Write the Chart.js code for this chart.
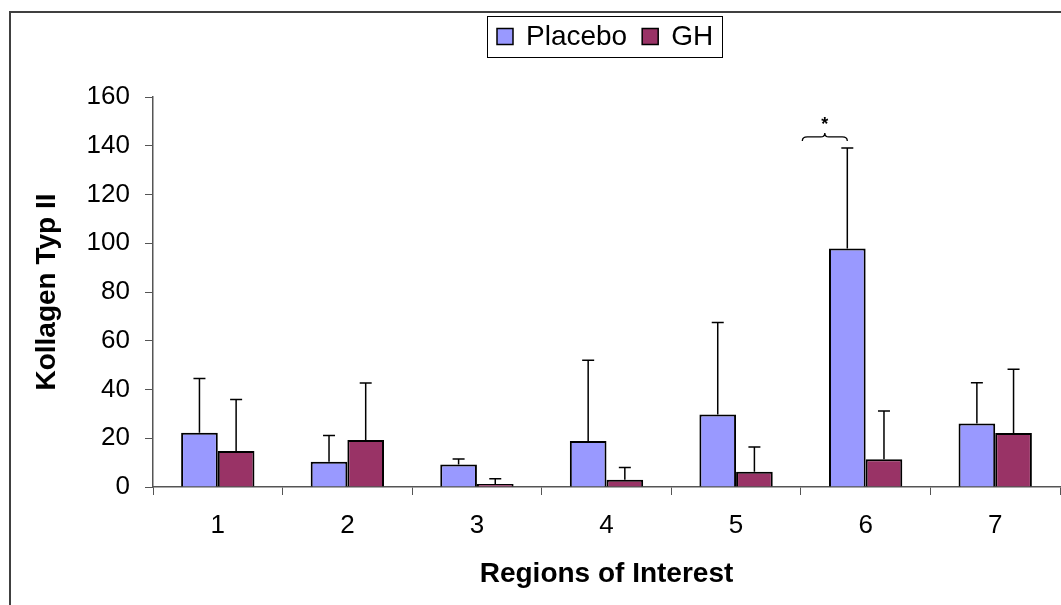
<!DOCTYPE html>
<html lang="de">
<head>
<meta charset="UTF-8">
<title>Kollagen Typ II</title>
<script src="https://cdn.jsdelivr.net/npm/chart.js@4/dist/chart.umd.min.js"></script>
<style>
  html, body { margin: 0; padding: 0; background: #fff; }
  canvas { display: block; }
</style>
</head>
<body>
<canvas id="myChart" width="1061" height="605"></canvas>
<script>
// data
var regions = ['1', '2', '3', '4', '5', '6', '7'];
var placebo = [22.3, 10.4, 9.2, 18.9, 29.7, 97.8, 26.1];
var placeboSD = [22.2, 10.7, 2.3, 33.1, 37.8, 41.3, 16.7];
var gh = [14.8, 19.3, 1.2, 3.0, 6.3, 11.4, 22.2];
var ghSD = [21.1, 23.4, 2.2, 5.0, 10.1, 19.8, 26.1];
var yTicks = [0, 20, 40, 60, 80, 100, 120, 140, 160];
// significance mark over region 6
var sigIndex = 5;
var sigValue = 142;

var FONT = 'Liberation Sans, Arial, sans-serif';

// outer frame
var framePlugin = {
    id: 'frame',
    beforeDraw: function (chart) {
        var ctx = chart.ctx;
        ctx.save();
        ctx.fillStyle = '#fff';
        ctx.fillRect(0, 0, chart.width, chart.height);
        ctx.strokeStyle = '#404040';
        ctx.lineWidth = 2;
        ctx.strokeRect(10, 12, chart.width + 20, chart.height + 20);
        ctx.restore();
    }
};

// upper error bars only
var errorBarPlugin = {
    id: 'errorBars',
    afterDatasetsDraw: function (chart) {
        var ctx = chart.ctx;
        var yScale = chart.scales.y;
        ctx.save();
        ctx.strokeStyle = '#000';
        ctx.lineWidth = 1.5;
        chart.data.datasets.forEach(function (ds, di) {
            var meta = chart.getDatasetMeta(di);
            meta.data.forEach(function (bar, i) {
                var top = yScale.getPixelForValue(ds.data[i] + ds.sd[i]);
                ctx.beginPath();
                ctx.moveTo(bar.x, bar.y);
                ctx.lineTo(bar.x, top);
                ctx.moveTo(bar.x - 6, top);
                ctx.lineTo(bar.x + 6, top);
                ctx.stroke();
            });
        });
        ctx.restore();
    }
};

// brace + asterisk over region 6
var sigPlugin = {
    id: 'sig',
    afterDatasetsDraw: function (chart) {
        var ctx = chart.ctx;
        var bar = chart.getDatasetMeta(0).data[sigIndex];
        var yb = chart.scales.y.getPixelForValue(sigValue);
        var x1 = bar.x - 45, x2 = bar.x, xm = (x1 + x2) / 2;
        var h = 8;
        ctx.save();
        ctx.strokeStyle = '#000';
        ctx.lineWidth = 1.3;
        ctx.beginPath();
        ctx.moveTo(x1, yb);
        ctx.quadraticCurveTo(x1, yb - h / 2, x1 + 5, yb - h / 2);
        ctx.lineTo(xm - 4, yb - h / 2);
        ctx.quadraticCurveTo(xm, yb - h / 2, xm, yb - h);
        ctx.quadraticCurveTo(xm, yb - h / 2, xm + 4, yb - h / 2);
        ctx.lineTo(x2 - 5, yb - h / 2);
        ctx.quadraticCurveTo(x2, yb - h / 2, x2, yb);
        ctx.stroke();
        ctx.fillStyle = '#000';
        ctx.font = 'bold 18px ' + FONT;
        ctx.textAlign = 'center';
        ctx.textBaseline = 'middle';
        ctx.fillText('*', xm, yb - h - 8);
        ctx.restore();
    }
};

// boxed legend above the plot
var legendPlugin = {
    id: 'boxLegend',
    afterDraw: function (chart) {
        var ctx = chart.ctx;
        var left = 487, top = 16, w = 235, h = 41;
        ctx.save();
        ctx.strokeStyle = '#000';
        ctx.lineWidth = 1;
        ctx.strokeRect(left + 0.5, top + 0.5, w, h);
        ctx.font = '28px ' + FONT;
        ctx.textBaseline = 'middle';
        ctx.textAlign = 'left';
        var x = 497, cy = top + h / 2;
        chart.data.datasets.forEach(function (ds) {
            ctx.fillStyle = ds.backgroundColor;
            ctx.fillRect(x, cy - 8, 16, 16);
            ctx.strokeStyle = '#000';
            ctx.lineWidth = 1.5;
            ctx.strokeRect(x, cy - 8, 16, 16);
            ctx.fillStyle = '#000';
            ctx.fillText(ds.label, x + 29, cy + 1);
            x += 29 + ctx.measureText(ds.label).width + 15;
        });
        ctx.restore();
    }
};

var ctx = document.getElementById('myChart');
var myChart = new Chart(ctx, {
    type: 'bar',
    data: {
        labels: regions,
        datasets: [{
            label: 'Placebo',
            data: placebo,
            sd: placeboSD,
            backgroundColor: '#9999FF',
            borderColor: '#000',
            borderWidth: 2
        }, {
            label: 'GH',
            data: gh,
            sd: ghSD,
            backgroundColor: '#993366',
            borderColor: '#000',
            borderWidth: 2
        }]
    },
    options: {
        responsive: false,
        animation: false,
        devicePixelRatio: 1,
        categoryPercentage: 0.566,
        barPercentage: 1,
        layout: { padding: { top: 97, right: 1, left: 0, bottom: 0 } },
        plugins: {
            legend: { display: false },
            tooltip: { enabled: false }
        },
        scales: {
            x: {
                afterFit: function (scale) { scale.height = 118; },
                grid: { offset: true, drawOnChartArea: false, drawTicks: true, tickLength: 8, color: '#555', lineWidth: 1 },
                border: { display: true, color: '#555', width: 1.5 },
                ticks: { color: '#000', padding: 15, font: { family: FONT, size: 26 } },
                title: {
                    display: true,
                    text: 'Regions of Interest',
                    color: '#000',
                    font: { family: FONT, size: 28, weight: 'bold' },
                    padding: { top: 0, bottom: 14 }
                }
            },
            y: {
                min: 0,
                max: 160,
                afterFit: function (scale) { scale.width = 153; },
                afterBuildTicks: function (scale) {
                    scale.ticks = yTicks.map(function (v) { return { value: v }; });
                },
                grid: { drawOnChartArea: false, drawTicks: true, tickLength: 8, color: '#555', lineWidth: 1 },
                border: { display: true, color: '#555', width: 1.5 },
                ticks: { color: '#000', padding: 15, font: { family: FONT, size: 26 } },
                title: {
                    display: true,
                    text: 'Kollagen Typ II',
                    color: '#000',
                    font: { family: FONT, size: 28, weight: 'bold' },
                    padding: { top: 30, bottom: 0 }
                }
            }
        }
    },
    plugins: [framePlugin, errorBarPlugin, sigPlugin, legendPlugin]
});
</script>
</body>
</html>
